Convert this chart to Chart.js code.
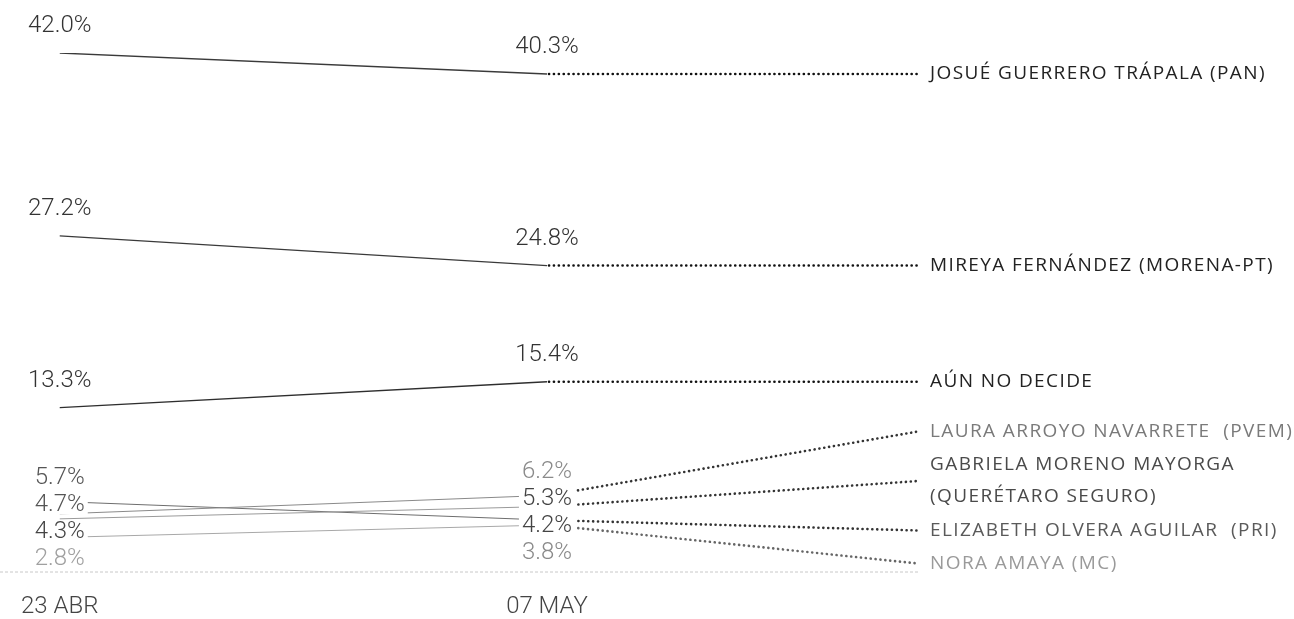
<!DOCTYPE html>
<html>
<head>
<meta charset="utf-8">
<script src="https://cdn.jsdelivr.net/npm/chart.js@4"></script>
<style>
  html, body { margin: 0; padding: 0; background: #fff; }
  #wrap { width: 1294px; height: 619px; }
</style>
</head>
<body>
<div id="wrap"><canvas id="pollChart" width="1294" height="619"></canvas></div>
<script>
// survey dates (x axis)
const dates = ['23 ABR', '07 MAY'];

// candidates, top to bottom on the right side
const candidates = [
  'JOSUÉ GUERRERO TRÁPALA (PAN)',
  'MIREYA FERNÁNDEZ (MORENA-PT)',
  'AÚN NO DECIDE',
  'LAURA ARROYO NAVARRETE  (PVEM)',
  ['GABRIELA MORENO MAYORGA', '(QUERÉTARO SEGURO)'],
  'ELIZABETH OLVERA AGUILAR  (PRI)',
  'NORA AMAYA (MC)'
];

// percentages for each date
const abr23 = [42.0, 27.2, 13.3, 4.7, 4.3, 5.7, 2.8];
const may07 = [40.3, 24.8, 15.4, 6.2, 5.3, 4.2, 3.8];

// styling
const lineColors = ['#3a3a3a', '#3a3a3a', '#2e2e2e', '#8a8a8a', '#9a9a9a', '#6e6e6e', '#a8a8a8'];
const lineWidths = [1.3, 1.3, 1.4, 1, 1, 1, 1];
const dotColors = ['#111', '#111', '#111', '#333', '#333', '#333', '#666'];
const nameColors = ['#222', '#222', '#222', '#7a7a7a', '#4a4a4a', '#5a5a5a', '#9a9a9a'];
const valColorsAbr = ['#333', '#333', '#333', '#555', '#454545', '#555', '#a0a0a0'];
const valColorsMay = ['#333', '#333', '#333', '#8a8a8a', '#444', '#444', '#8a8a8a'];

const VALUE_FONT = '300 24px Roboto';
const NAME_FONT = '19px "Open Sans"';
const LABEL_X = 930;
const DOTS_END = 918;

// value labels: single points sit above the line, crowded ones get spread out
function drawValues(chart, ctx, j, colors, values) {
  const pts = chart.data.datasets.map((ds, i) => {
    const el = chart.getDatasetMeta(i).data[j];
    return { i, x: el.x, y: el.y };
  }).sort((a, b) => a.y - b.y);

  const gap = 27;
  const clusters = [];
  pts.forEach(p => {
    const last = clusters[clusters.length - 1];
    if (last && p.y - last[last.length - 1].y < gap) last.push(p);
    else clusters.push([p]);
  });

  ctx.font = VALUE_FONT;
  ctx.textAlign = 'center';
  ctx.textBaseline = 'middle';
  clusters.forEach(c => {
    if (c.length === 1) {
      const p = c[0];
      ctx.fillStyle = colors[p.i];
      ctx.fillText(values[p.i].toFixed(1) + '%', p.x, p.y - 27);
      return;
    }
    const mean = c.reduce((s, p) => s + p.y, 0) / c.length;
    c.forEach((p, k) => {
      const cy = mean + (k - (c.length - 1) / 2) * gap;
      const txt = values[p.i].toFixed(1) + '%';
      const w = ctx.measureText(txt).width;
      ctx.fillStyle = '#fff';
      ctx.fillRect(p.x - w / 2 - 3, cy - 10, w + 6, 20);
      ctx.fillStyle = colors[p.i];
      ctx.fillText(txt, p.x, cy + 1);
    });
  });
}

const labelsPlugin = {
  id: 'labelsPlugin',
  beforeDatasetsDraw(chart) {
    const { ctx, scales } = chart;
    const y0 = scales.y.getPixelForValue(0);
    ctx.save();
    ctx.strokeStyle = '#c8c8c8';
    ctx.lineWidth = 1;
    ctx.setLineDash([3, 2]);
    ctx.beginPath();
    ctx.moveTo(0, y0);
    ctx.lineTo(DOTS_END, y0);
    ctx.stroke();
    ctx.restore();
  },
  afterDatasetsDraw(chart) {
    const { ctx, chartArea } = chart;
    const rowH = 33, lineStep = 32;

    // lay out the candidate names so they don't overlap
    const items = candidates.map((name, i) => {
      const el = chart.getDatasetMeta(i).data[1];
      const lines = Array.isArray(name) ? name : [name];
      return { i, lines, x: el.x, y: el.y, h: rowH * lines.length };
    }).sort((a, b) => a.y - b.y);

    let prevBottom = -Infinity;
    items.forEach(it => {
      it.top = Math.max(it.y - it.h / 2, prevBottom);
      prevBottom = it.top + it.h;
    });
    let nextTop = chartArea.bottom + 8;
    for (let k = items.length - 1; k >= 0; k--) {
      const it = items[k];
      if (it.top + it.h > nextTop) it.top = nextTop - it.h;
      nextTop = it.top;
    }

    ctx.save();
    // dotted connectors
    ctx.lineCap = 'round';
    ctx.lineWidth = 2.6;
    ctx.setLineDash([0.1, 4.8]);
    items.forEach(it => {
      const cy = it.top + it.h / 2;
      ctx.strokeStyle = dotColors[it.i];
      ctx.beginPath();
      ctx.moveTo(it.x + 2, it.y);
      ctx.lineTo(DOTS_END, cy);
      ctx.stroke();
    });
    ctx.setLineDash([]);

    // candidate names
    ctx.font = NAME_FONT;
    ctx.letterSpacing = '1.4px';
    ctx.textAlign = 'left';
    ctx.textBaseline = 'middle';
    items.forEach(it => {
      const cy = it.top + it.h / 2;
      ctx.fillStyle = nameColors[it.i];
      it.lines.forEach((ln, k) => {
        ctx.fillText(ln, LABEL_X, cy + (k - (it.lines.length - 1) / 2) * lineStep);
      });
    });
    ctx.letterSpacing = '0px';

    drawValues(chart, ctx, 0, valColorsAbr, abr23);
    drawValues(chart, ctx, 1, valColorsMay, may07);
    ctx.restore();
  }
};

const ctx = document.getElementById('pollChart').getContext('2d');
new Chart(ctx, {
  type: 'line',
  data: {
    labels: dates,
    datasets: candidates.map((name, i) => ({
      label: Array.isArray(name) ? name.join(' ') : name,
      data: [abr23[i], may07[i]],
      borderColor: lineColors[i],
      borderWidth: lineWidths[i],
      pointRadius: 0,
      tension: 0,
      fill: false
    }))
  },
  options: {
    responsive: false,
    animation: false,
    layout: { padding: { left: 51, right: 747, top: 53, bottom: 0 } },
    plugins: {
      legend: { display: false },
      tooltip: { enabled: false }
    },
    scales: {
      x: {
        offset: false,
        grid: { display: false, drawTicks: false },
        border: { display: false },
        afterFit(scale) { scale.height = 47; },
        ticks: {
          color: '#444',
          font: { family: 'Roboto', size: 24, weight: '300' },
          padding: 21,
          maxRotation: 0,
          autoSkip: false
        }
      },
      y: {
        display: false,
        min: 0,
        max: 42
      }
    }
  },
  plugins: [labelsPlugin]
});
</script>
</body>
</html>
